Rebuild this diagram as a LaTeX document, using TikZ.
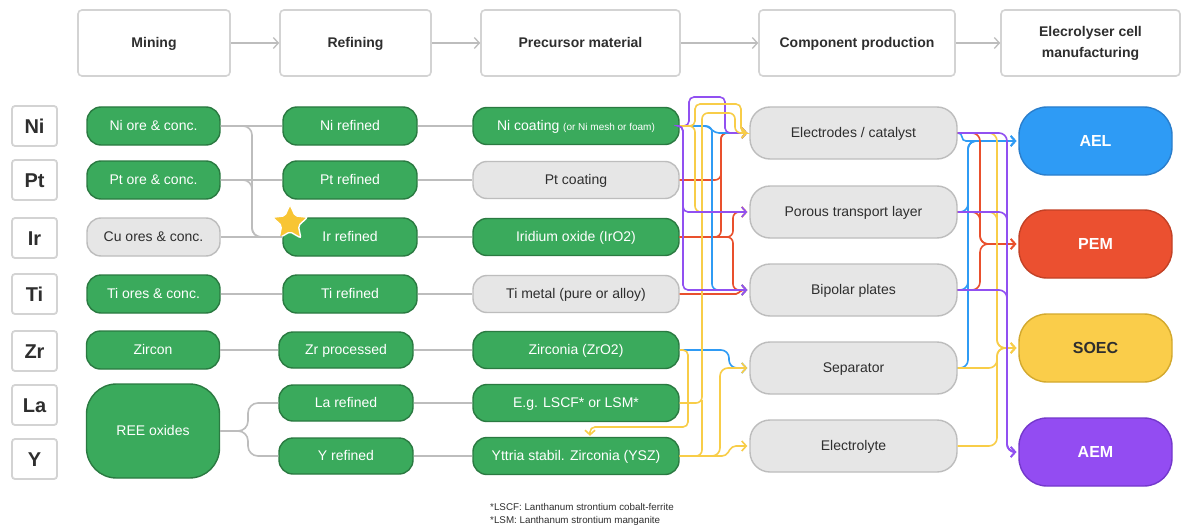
\documentclass[tikz,border=0pt]{standalone}
\usepackage{fontspec}
\setmainfont{Liberation Sans}
\usetikzlibrary{arrows.meta,shapes.geometric,calc}
\definecolor{grn}{HTML}{3AAA5C}
\definecolor{grnd}{HTML}{2A7A41}
\definecolor{lgr}{HTML}{E6E6E6}
\definecolor{lgrd}{HTML}{BDBDBD}
\definecolor{hdrd}{HTML}{D3D3D3}
\definecolor{txt}{HTML}{2E2E2E}
\definecolor{cblue}{HTML}{2F9BF4}
\definecolor{cred}{HTML}{E9502D}
\definecolor{cyel}{HTML}{F8CD48}
\definecolor{cpur}{HTML}{9150F1}
\definecolor{aelf}{HTML}{2E9BF5}
\definecolor{aeld}{HTML}{2A7ECC}
\definecolor{pemf}{HTML}{EB5030}
\definecolor{pemd}{HTML}{C24126}
\definecolor{soef}{HTML}{FACD4A}
\definecolor{soed}{HTML}{D3A92E}
\definecolor{aemf}{HTML}{934CF2}
\definecolor{aemd}{HTML}{7438CC}
\definecolor{starc}{HTML}{F8C534}
\newcommand{\myfs}[1]{\fontsize{#1}{#1}\selectfont}
\begin{document}
\begin{tikzpicture}[x=1pt,y=-1pt,
  hdr/.style={draw=hdrd, line width=1.6pt, fill=white, rounded corners=4pt, minimum height=66pt, inner sep=0pt, align=center, text=txt, font=\bfseries\myfs{14}},
  elbox/.style={draw=hdrd, line width=1.8pt, fill=white, rounded corners=3pt, minimum width=45pt, minimum height=40pt, inner sep=0pt, text=txt, font=\bfseries\myfs{20}, text height=14.5pt, text depth=0pt},
  gbox/.style={fill=grn, draw=grnd, line width=1.4pt, rounded corners=14pt, minimum height=38pt, inner sep=0pt, text=white, font=\myfs{14}, text height=10pt, text depth=0.5pt},
  lbox/.style={fill=lgr, draw=lgrd, line width=1.4pt, rounded corners=14pt, minimum height=38pt, inner sep=0pt, text=txt, font=\myfs{14}, text height=10pt, text depth=0.5pt},
  mcol/.style={minimum width=133pt},
  rcol/.style={minimum width=134pt},
  pcol/.style={minimum width=206pt, minimum height=37pt},
  comp/.style={lbox, minimum width=207pt, minimum height=52pt, rounded corners=20pt},
  cell/.style={line width=1.4pt, rounded corners=28pt, minimum width=153pt, minimum height=68pt, inner sep=0pt, font=\bfseries\myfs{16}, text height=11.5pt, text depth=0pt},
  harr/.style={draw=lgrd, line width=1.3pt, -{Straight Barb[length=5pt,width=11pt]}},
  gcon/.style={draw=lgrd, line width=1.6pt},
  ccon/.style={line width=1.6pt, rounded corners=6pt, -{Straight Barb[length=4.5pt,width=10pt]}, shorten >=2pt},
  lcon/.style={line width=1.6pt, rounded corners=6pt},
]
\fill[white] (0,0) rectangle (1182,532);
\useasboundingbox (0,0) rectangle (1182,532);

% headers
\node[hdr, minimum width=152pt, text height=10pt, text depth=0pt] (h1) at (154,43) {Mining};
\node[hdr, minimum width=151pt, text height=10pt, text depth=0pt] (h2) at (355.5,43) {Refining};
\node[hdr, minimum width=199pt, text height=10pt, text depth=0pt] (h3) at (580.5,43) {Precursor material};
\node[hdr, minimum width=196pt, text height=10pt, text depth=0pt] (h4) at (857,43) {Component production};
\node[hdr, minimum width=179pt, font=\bfseries\fontsize{14}{21}\selectfont] (h5) at (1090.5,43) {Elecrolyser cell\\manufacturing};
\draw[harr] (h1.east) -- (h2.west);
\draw[harr] (h2.east) -- (h3.west);
\draw[harr] (h3.east) -- (h4.west);
\draw[harr] (h4.east) -- (h5.west);

% elements
\node[elbox] (eni) at (34.5,126) {Ni};
\node[elbox] (ept) at (34.5,180) {Pt};
\node[elbox] (eir) at (34.5,238) {Ir};
\node[elbox] (eti) at (34.5,294) {Ti};
\node[elbox] (ezr) at (34.5,351) {Zr};
\node[elbox] (ela) at (34.5,405) {La};
\node[elbox] (ey) at (34.5,459) {Y};

% mining
\node[gbox, mcol] (mni) at (153.5,126) {Ni ore \& conc.};
\node[gbox, mcol] (mpt) at (153.5,180) {Pt ore \& conc.};
\node[lbox, mcol] (mcu) at (153.5,237) {Cu ores \& conc.};
\node[gbox, mcol] (mti) at (153.5,294) {Ti ores \& conc.};
\node[gbox, mcol] (mzr) at (153,350) {Zircon};
\node[gbox, mcol, minimum height=94pt, rounded corners=30pt] (mree) at (153,431) {REE oxides};

% refining
\node[gbox, rcol] (rni) at (350,126) {Ni refined};
\node[gbox, rcol] (rpt) at (350,180) {Pt refined};
\node[gbox, rcol] (rir) at (350,237) {Ir refined};
\node[gbox, rcol] (rti) at (350,294) {Ti refined};
\node[gbox, rcol, minimum height=36pt] (rzr) at (346,350) {Zr processed};
\node[gbox, rcol, minimum height=36pt] (rla) at (346,403) {La refined};
\node[gbox, rcol, minimum height=36pt] (ry) at (346,456) {Y refined};
\node[star, star points=5, star point ratio=2.1, fill=starc, draw=white, line width=1.4pt, minimum size=37pt, inner sep=0pt, rounded corners=2pt] (star) at (290,223) {};

% precursors
\node[gbox, pcol] (pni) at (576,126) {Ni coating {\myfs{10}(or Ni mesh or foam)}};
\node[lbox, pcol] (ppt) at (576,180) {Pt coating};
\node[gbox, pcol] (pir) at (576,237) {Iridium oxide (IrO2)};
\node[lbox, pcol] (pti) at (576,294) {Ti metal (pure or alloy)};
\node[gbox, pcol] (pzr) at (576,350) {Zirconia (ZrO2)};
\node[gbox, pcol] (pla) at (576,403) {E.g. LSCF* or LSM*};
\node[gbox, pcol] (pys) at (576,456) {Yttria stabil. Zirconia (YSZ)};

% components
\node[comp] (cel) at (853.5,133) {Electrodes / catalyst};
\node[comp] (cpt) at (853.5,212) {Porous transport layer};
\node[comp] (cbp) at (853.5,290) {Bipolar plates};
\node[comp] (csp) at (853.5,368) {Separator};
\node[comp] (cly) at (853.5,446) {Electrolyte};

% cells
\node[cell, fill=aelf, draw=aeld, text=white] (ael) at (1095.5,141) {AEL};
\node[cell, fill=pemf, draw=pemd, text=white] (pem) at (1095.5,244) {PEM};
\node[cell, fill=soef, draw=soed, text=txt] (soec) at (1095.5,348) {SOEC};
\node[cell, fill=aemf, draw=aemd, text=white] (aem) at (1095.5,452) {AEM};

% footnote
\node[anchor=north west, align=left, inner sep=0pt, text=txt, font=\fontsize{9.8}{13.5}\selectfont] (fn) at (490,503) {*LSCF: Lanthanum strontium cobalt-ferrite\\*LSM: Lanthanum strontium manganite};

% gray connectors mining -> refining -> precursor
\draw[gcon] (mni.east) -- (rni.west);
\draw[gcon] (mpt.east) -- (rpt.west);
\draw[gcon] (mcu.east) -- (rir.west);
\draw[gcon] (mti.east) -- (rti.west);
\draw[gcon] (mzr.east) -- (rzr.west);
\draw[gcon, rounded corners=9pt] (mni.east) -- (252,126) -- (252,237) -- (rir.west);
\draw[gcon, rounded corners=9pt] (mpt.east) -- (252,180) -- (252,237) -- (rir.west);
\draw[gcon, rounded corners=10pt] (mree.east) -- (248,431) -- (248,403) -- (rla.west);
\draw[gcon, rounded corners=10pt] (mree.east) -- (248,431) -- (248,456) -- (ry.west);
\draw[gcon] (rni.east) -- (pni.west);
\draw[gcon] (rpt.east) -- (ppt.west);
\draw[gcon] (rir.east) -- (pir.west);
\draw[gcon] (rti.east) -- (pti.west);
\draw[gcon] (rzr.east) -- (pzr.west);
\draw[gcon] (rla.east) -- (pla.west);
\draw[gcon] (ry.east) -- (pys.west);

% precursor -> component : red
\draw[ccon, cred] (ppt.east) -- (721,180) -- (721,133) -- (cel.west);
\draw[ccon, cred] (pir.east) -- (721,237) -- (721,133) -- (cel.west);
\draw[ccon, cred] (pir.east) -- (733,237) -- (733,212) -- (cpt.west);
\draw[ccon, cred] (pir.east) -- (733,237) -- (733,290) -- (cbp.west);
\draw[ccon, cred, rounded corners=2pt] (pti.east) -- (738,294) -- (741,290) -- (cbp.west);
% blue
\draw[ccon, cblue] (pni.east) -- (712,126) -- (712,290) -- (cbp.west);
\draw[ccon, cblue, rounded corners=4pt] (pni.east) -- (708,126) -- (715,133) -- (cel.west);
\draw[ccon, cblue, rounded corners=8pt] (pzr.east) -- (729,350) -- (729,368) -- (csp.west);
% purple loop
\draw[ccon, cpur, rounded corners=5pt] (pni.east) -- (689,126) -- (689,97) -- (725,97) -- (725,133) -- (cel.west);
% yellow
\draw[ccon, cyel, rounded corners=5pt] (pni.east) -- (695,126) -- (695,104) -- (741,104) -- (741,133) -- (cel.west);
\draw[ccon, cyel] (pni.east) -- (695,126) -- (695,212) -- (cpt.west);
\draw[ccon, cyel] (pla.east) -- (702,403) -- (702,113) -- (735,113) -- (735,133) -- (cel.west);
\draw[lcon, cyel] (pys.east) -- (702,456) -- (702,400);
\draw[ccon, cyel, rounded corners=8pt] (pys.east) -- (720,456) -- (720,368) -- (csp.west);
\draw[ccon, cyel, rounded corners=4pt] (pys.east) -- (726,456) -- (732,446) -- (cly.west);
\coordinate (yx) at (590,0);
\draw[ccon, cyel, rounded corners=5pt, shorten >=1pt] (pzr.east) -- (688,350) -- (688,427) -- (590,427) -- (yx |- pys.north);
% purple
\draw[ccon, cpur, rounded corners=5pt] (pni.east) -- (683,126) -- (683,212) -- (cpt.west);
\draw[ccon, cpur, rounded corners=5pt] (pni.east) -- (683,126) -- (683,290) -- (cbp.west);

% component -> cell
\draw[ccon, cblue, rounded corners=4pt] (cel.east) -- (962,133) -- (962,141) -- (ael.west);
\draw[ccon, cblue, rounded corners=8pt] (cpt.east) -- (968,212) -- (968,141) -- (ael.west);
\draw[ccon, cblue, rounded corners=8pt] (cbp.east) -- (968,290) -- (968,141) -- (ael.west);
\draw[ccon, cblue, rounded corners=8pt] (csp.east) -- (968,368) -- (968,141) -- (ael.west);
\draw[ccon, cred, rounded corners=8pt] (cel.east) -- (980,133) -- (980,244) -- (pem.west);
\draw[ccon, cred, rounded corners=8pt] (cpt.east) -- (980,212) -- (980,244) -- (pem.west);
\draw[ccon, cred, rounded corners=8pt] (cbp.east) -- (980,290) -- (980,244) -- (pem.west);
\draw[ccon, cyel, rounded corners=8pt] (cel.east) -- (997,133) -- (997,348) -- (soec.west);
\draw[ccon, cyel, rounded corners=8pt] (cpt.east) -- (997,212) -- (997,348) -- (soec.west);
\draw[ccon, cyel, rounded corners=8pt] (csp.east) -- (997,368) -- (997,348) -- (soec.west);
\draw[ccon, cyel, rounded corners=8pt] (cly.east) -- (997,446) -- (997,348) -- (soec.west);
\draw[ccon, cpur, rounded corners=8pt] (cel.east) -- (1007,133) -- (1007,452) -- (aem.west);
\draw[ccon, cpur, rounded corners=8pt] (cpt.east) -- (1007,212) -- (1007,452) -- (aem.west);
\draw[ccon, cpur, rounded corners=8pt] (cbp.east) -- (1007,290) -- (1007,452) -- (aem.west);
\end{tikzpicture}
\end{document}
